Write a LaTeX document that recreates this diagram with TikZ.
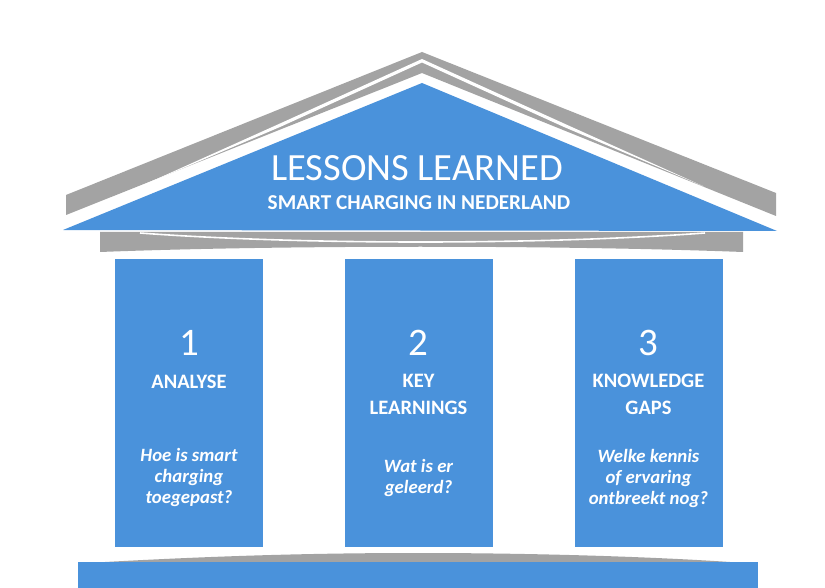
\documentclass[tikz,border=0pt]{standalone}
\usepackage{fontspec}
\setmainfont{Carlito}
\definecolor{templeblue}{HTML}{4A92DB}
\definecolor{templegrey}{HTML}{A3A3A3}
\tikzset{
  pillar/.style={fill=templeblue, draw=none, minimum width=148pt, minimum height=288pt, inner sep=0pt},
  numtext/.style={text=white, inner sep=0pt, font=\fontsize{39}{40}\selectfont},
  headtext/.style={text=white, inner sep=0pt, align=center, font=\fontsize{20.5}{27}\selectfont\bfseries},
  qtext/.style={text=white, inner sep=0pt, align=center, font=\fontsize{18.8}{21}\selectfont\bfseries\itshape},
}
\begin{document}
\begin{tikzpicture}[x=1pt,y=-1pt]
\useasboundingbox (0,0) rectangle (825,588);
\fill[white] (0,0) rectangle (825,588);

% roof: grey band split by a thin tapering white line
\fill[templegrey] (66,195) -- (422,52) -- (776,193) -- (776,216) -- (422,73) -- (66,215) -- cycle;
\fill[white] (140,186.5) -- (280,123.5) -- (422,59) -- (564,123.5) -- (704,186.5)
  -- (564,127) -- (422,62.5) -- (280,127) -- cycle;

% pediment
\fill[templeblue] (63,230) -- (422,83) -- (777,231) -- cycle;
\node[text=white, inner sep=0pt, font=\fontsize{38.5}{40}\selectfont] (title) at (417,168) {LESSONS LEARNED};
\node[text=white, inner sep=0pt, font=\fontsize{21.2}{22}\selectfont\bfseries] (subtitle) at (419,203) {SMART CHARGING IN NEDERLAND};

% entablature beam
\fill[templegrey] (100,232) -- (743,232) -- (743,252) .. controls (560,245) and (280,245) .. (100,252) -- cycle;
\draw[white, line width=1.6pt] (140,233) .. controls (300,245) and (540,245) .. (705,233);

% pillars
\node[pillar] (p1) at (189,403) {};
\node[pillar] (p2) at (418.5,403) {};
\node[pillar] (p3) at (648.5,403) {};

\node[numtext] (n1) at (p1.center |- 0,343) {1};
\node[numtext] (n2) at (p2.center |- 0,343) {2};
\node[numtext] (n3) at (p3.center |- 0,343) {3};

\node[headtext] (h1) at (p1.center |- 0,382) {ANALYSE};
\node[headtext] (h2) at (p2.center |- 0,394.5) {KEY\\LEARNINGS};
\node[headtext] (h3) at (p3.center |- 0,394.5) {KNOWLEDGE\\GAPS};

\node[qtext] (q1) at (p1.center |- 0,477) {Hoe is smart\\charging\\toegepast?};
\node[qtext] (q2) at (p2.center |- 0,478) {Wat is er\\geleerd?};
\node[qtext] (q3) at (p3.center |- 0,478) {Welke kennis\\of ervaring\\ontbreekt nog?};

% base: grey swoosh on top of the blue plinth
\fill[templegrey] (105,562) .. controls (250,554) and (350,553) .. (420,553) .. controls (520,553) and (640,556) .. (730,562) -- cycle;
\fill[templeblue] (78,562) rectangle (758,590);
\end{tikzpicture}
\end{document}
